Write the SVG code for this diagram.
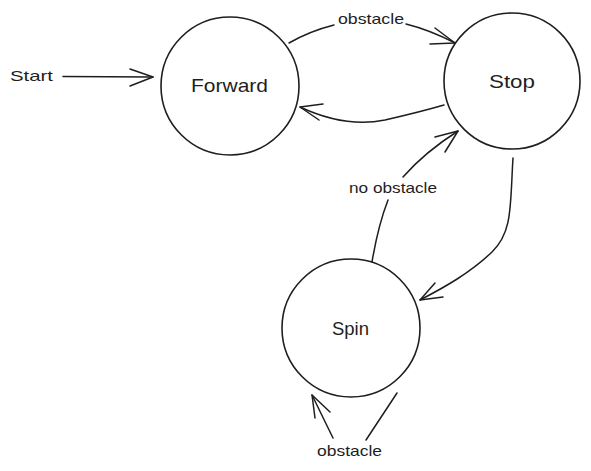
<svg xmlns="http://www.w3.org/2000/svg" width="591" height="471" viewBox="0 0 591 471">
<style>
.node{fill:none;stroke:#1e1e1e;stroke-width:1.6}
.lbl{font-family:"Liberation Sans",Arial,sans-serif;fill:#1e1e1e;text-anchor:middle}
.big{font-size:19px}
.small{font-size:15px}
.edge{fill:none;stroke:#1e1e1e;stroke-width:1.5;stroke-linecap:round;stroke-linejoin:round}
</style>
<rect width="591" height="471" fill="#ffffff"/>
<g id="connectors">
  <g id="start-edge">
    <text class="lbl small" x="31.5" y="80.5" textLength="43" lengthAdjust="spacingAndGlyphs">Start</text>
    <path class="edge" d="M63 76.5 L153 77"/>
    <path class="edge" d="M130 69 L153 77 L130 86"/>
  </g>
  <g id="forward-stop">
    <path class="edge" d="M289 43 Q310 31 334 25"/>
    <path class="edge" d="M406 24 Q430 30 455 43"/>
    <path class="edge" d="M435 28 L455 43 L430 44"/>
    <text class="lbl small" x="371" y="23.5" textLength="66" lengthAdjust="spacingAndGlyphs">obstacle</text>
  </g>
  <g id="stop-forward">
    <path class="edge" d="M444 105 Q420 112 385 120 Q345 128 300 107"/>
    <path class="edge" d="M323 104 L300 107 L319 120"/>
  </g>
  <g id="spin-stop">
    <path class="edge" d="M372 262 Q378 226 388 200"/>
    <path class="edge" d="M403 177 Q425 152 458 131"/>
    <path class="edge" d="M435 137 L458 131 L445 152"/>
    <text class="lbl small" x="393" y="193" textLength="88" lengthAdjust="spacingAndGlyphs">no obstacle</text>
  </g>
  <g id="stop-spin">
    <path class="edge" d="M513 158 C510 205 513 232 492 252 C470 273 445 287 420 300"/>
    <path class="edge" d="M435 283 L420 300 L443 297"/>
  </g>
  <g id="spin-self">
    <path class="edge" d="M397 393 L366 440"/>
    <path class="edge" d="M333 438 L312 395"/>
    <path class="edge" d="M330 412 L312 395 L315 418"/>
    <text class="lbl small" x="349.5" y="456" textLength="65" lengthAdjust="spacingAndGlyphs">obstacle</text>
  </g>
</g>
<g id="node-forward">
  <circle class="node" cx="230" cy="86" r="69"/>
  <text class="lbl big" x="229.5" y="92" textLength="77" lengthAdjust="spacingAndGlyphs">Forward</text>
</g>
<g id="node-stop">
  <circle class="node" cx="512" cy="81" r="68"/>
  <text class="lbl big" x="512" y="88" textLength="46" lengthAdjust="spacingAndGlyphs">Stop</text>
</g>
<g id="node-spin">
  <circle class="node" cx="351" cy="328" r="69"/>
  <text class="lbl big" x="350.5" y="335" textLength="37" lengthAdjust="spacingAndGlyphs">Spin</text>
</g>
</svg>
